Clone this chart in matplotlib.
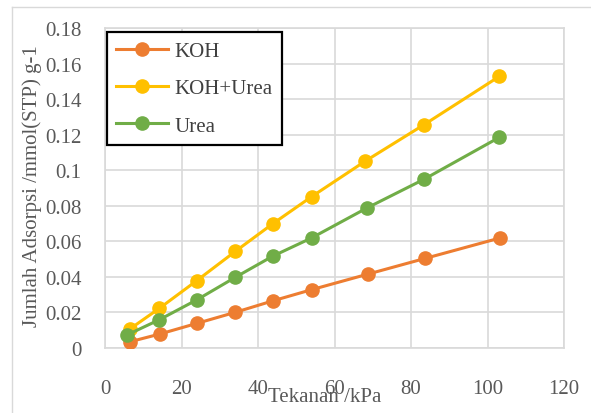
import numpy as np
import matplotlib
matplotlib.use("Agg")
import matplotlib.pyplot as plt
from matplotlib.lines import Line2D
from matplotlib.ticker import FuncFormatter

plt.rcParams['font.family'] = ['Liberation Serif', 'DejaVu Serif']

# data (pressure kPa, adsorption mmol(STP)/g)
x_koh = [6.5, 14.4, 24.1, 34.1, 44.0, 54.0, 68.8, 83.7, 103.3]
y_koh = [0.0035, 0.0079, 0.0139, 0.0201, 0.0266, 0.0328, 0.0416, 0.0504, 0.0619]

x_koh_urea = [6.5, 14.2, 24.0, 34.1, 43.8, 54.0, 68.1, 83.4, 103.1]
y_koh_urea = [0.0107, 0.0223, 0.0379, 0.0544, 0.0698, 0.0851, 0.1052, 0.1256, 0.1528]

x_urea = [5.7, 14.2, 24.1, 34.1, 43.8, 54.0, 68.6, 83.4, 103.1]
y_urea = [0.0073, 0.0159, 0.0272, 0.0398, 0.0516, 0.0619, 0.0789, 0.0949, 0.1185]

series = [
    ("KOH", x_koh, y_koh, "#ED7D31"),
    ("KOH+Urea", x_koh_urea, y_koh_urea, "#FFC000"),
    ("Urea", x_urea, y_urea, "#70AD47"),
]

W, H = 591, 414
fig = plt.figure(figsize=(W / 100, H / 100), dpi=100)

# outer chart border (top and left only visible)
fig.add_artist(Line2D([12 / W, 12 / W], [0, 1 - 8 / H], transform=fig.transFigure,
                      color="#d9d9d9", lw=1))
fig.add_artist(Line2D([12 / W, 1], [1 - 8 / H, 1 - 8 / H], transform=fig.transFigure,
                      color="#d9d9d9", lw=1))

ax = fig.add_axes([105 / W, 1 - 349 / H, (564 - 105) / W, (349 - 29) / H])

handles = []
for name, xs, ys, col in series:
    h, = ax.plot(xs, ys, color=col, lw=2.2, marker="o", markersize=9.5, label=name,
                 zorder=3)
    handles.append(h)

ax.set_xlim(0, 120)
ax.set_ylim(0, 0.18)
ax.set_xticks(np.arange(0, 121, 20))
ax.set_yticks(np.arange(0, 0.181, 0.02))
ax.yaxis.set_major_formatter(FuncFormatter(lambda v, p: "%g" % round(v, 2)))
ax.grid(True, color="#d9d9d9", lw=1.2)
ax.set_axisbelow(True)
for s in ax.spines.values():
    s.set_color("#d9d9d9")
    s.set_linewidth(1.2)
ax.tick_params(length=0, labelsize=15, labelcolor="#595959")
ax.tick_params(axis="y", pad=17)
ax.tick_params(axis="x", pad=22)

fig.text(32 / W, 1 - 186 / H, "Jumlah Adsorpsi /mmol(STP) g-1", rotation=90,
         ha="center", va="center", fontsize=15, color="#595959")
fig.text(325 / W, 1 - 398 / H, "Tekanan /kPa", ha="center", va="center",
         fontsize=15, color="#595959")

leg = ax.legend(handles=handles, loc="upper left",
                bbox_to_anchor=(107 / W, 1 - 33 / H), bbox_transform=fig.transFigure,
                borderaxespad=0, fancybox=False, framealpha=1, edgecolor="black",
                fontsize=15, handlelength=2.5, handletextpad=0.3, labelspacing=0.85,
                borderpad=0.45)
leg.get_frame().set_linewidth(1.6)
for t in leg.get_texts():
    t.set_color("#404040")

fig.savefig("out.png", dpi=100)
